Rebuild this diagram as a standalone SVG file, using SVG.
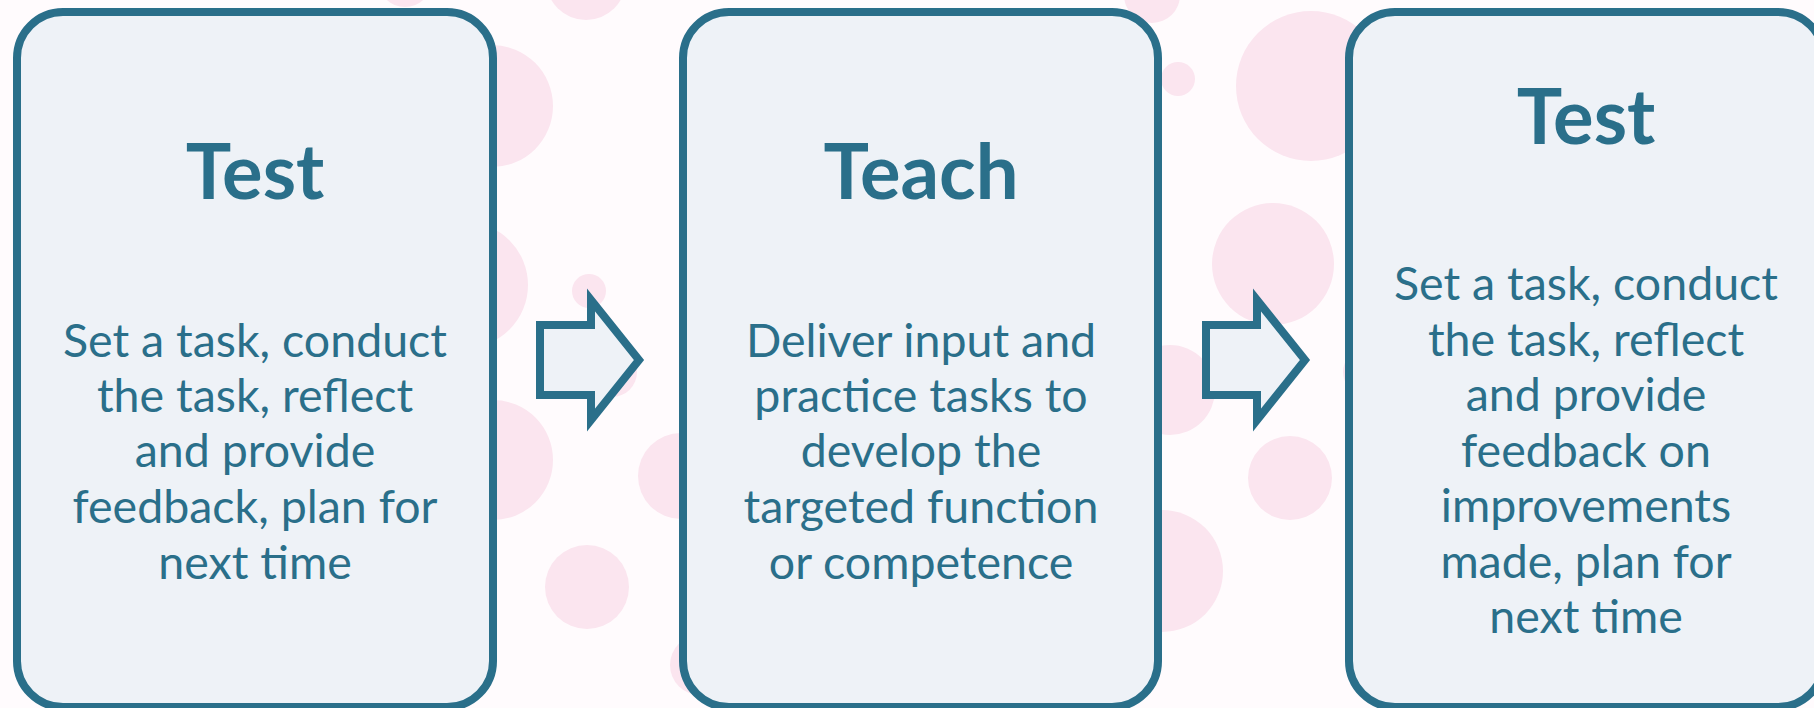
<svg xmlns="http://www.w3.org/2000/svg" width="1814" height="708" viewBox="0 0 1814 708">
  <style>
    .dot { fill: #fbe5ef; }
    .card { fill: #eef2f7; stroke: #2a6f8a; stroke-width: 8; }
    .arrow { fill: #eef2f7; stroke: #2a6f8a; stroke-width: 8; stroke-linejoin: miter; stroke-miterlimit: 10; }
    .title { font-family: Lato, "Open Sans", sans-serif; font-weight: 700; font-size: 76px; fill: #2a6f8a; text-anchor: middle; }
    .body { font-family: Lato, "Open Sans", sans-serif; font-size: 46.5px; fill: #2a6f8a; text-anchor: middle; }
  </style>

  <!-- page background -->
  <rect x="0" y="0" width="1814" height="708" fill="#fffbfd"/>

  <!-- decorative dots -->
  <g id="dots">
    <circle class="dot" cx="405" cy="-20" r="27"/>
    <circle class="dot" cx="586" cy="-20" r="40"/>
    <circle class="dot" cx="492" cy="106" r="61"/>
    <circle class="dot" cx="465" cy="285" r="63"/>
    <circle class="dot" cx="493" cy="460" r="60"/>
    <circle class="dot" cx="587" cy="587" r="42"/>
    <circle class="dot" cx="589" cy="291" r="17"/>
    <circle class="dot" cx="612" cy="372" r="25"/>
    <circle class="dot" cx="681" cy="476" r="43"/>
    <circle class="dot" cx="700" cy="665" r="30"/>
    <circle class="dot" cx="1152" cy="-5" r="28"/>
    <circle class="dot" cx="1178" cy="79" r="17"/>
    <circle class="dot" cx="1311" cy="86" r="75"/>
    <circle class="dot" cx="1273" cy="264" r="61"/>
    <circle class="dot" cx="1170" cy="390" r="45"/>
    <circle class="dot" cx="1290" cy="478" r="42"/>
    <circle class="dot" cx="1365" cy="372" r="22"/>
    <circle class="dot" cx="1162" cy="571" r="61"/>
  </g>

  <!-- step 1 -->
  <g id="step-test-1">
    <rect class="card" x="17" y="12" width="476" height="695" rx="46" ry="46"/>
    <text class="title" x="255" y="199">Test</text>
    <text class="body" x="255" y="357">Set a task, conduct</text>
    <text class="body" x="255" y="412">the task, reflect</text>
    <text class="body" x="255" y="467">and provide</text>
    <text class="body" x="255" y="523">feedback, plan for</text>
    <text class="body" x="255" y="579">next time</text>
  </g>

  <!-- step 2 -->
  <g id="step-teach">
    <rect class="card" x="683" y="12" width="475" height="695" rx="46" ry="46"/>
    <text class="title" x="921" y="199">Teach</text>
    <text class="body" x="921" y="357">Deliver input and</text>
    <text class="body" x="921" y="412">practice tasks to</text>
    <text class="body" x="921" y="467">develop the</text>
    <text class="body" x="921" y="523">targeted function</text>
    <text class="body" x="921" y="579">or competence</text>
  </g>

  <!-- step 3 -->
  <g id="step-test-2">
    <rect class="card" x="1349" y="12" width="475" height="695" rx="46" ry="46"/>
    <text class="title" x="1586" y="144">Test</text>
    <text class="body" x="1586" y="300">Set a task, conduct</text>
    <text class="body" x="1586" y="356">the task, reflect</text>
    <text class="body" x="1586" y="411">and provide</text>
    <text class="body" x="1586" y="467">feedback on</text>
    <text class="body" x="1586" y="522">improvements</text>
    <text class="body" x="1586" y="578">made, plan for</text>
    <text class="body" x="1586" y="633">next time</text>
  </g>

  <!-- block arrows between steps -->
  <g id="connectors">
    <polygon class="arrow" points="540,325 591,325 591,300 639,360 591,420 591,395 540,395"/>
    <polygon class="arrow" points="1206,325 1257,325 1257,300 1305,360 1257,420 1257,395 1206,395"/>
  </g>
</svg>
